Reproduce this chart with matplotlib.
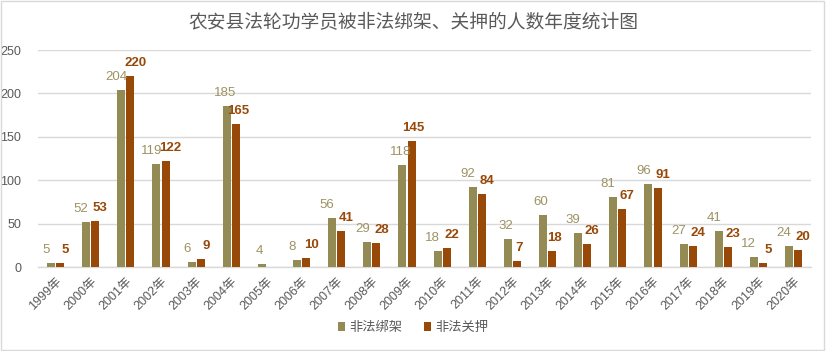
import matplotlib
matplotlib.use("Agg")
import matplotlib.pyplot as plt
import numpy as np
from matplotlib.patches import Rectangle

plt.rcParams['font.family'] = ['Liberation Sans', 'Noto Sans CJK SC', 'DejaVu Sans']

years = ['1999年', '2000年', '2001年', '2002年', '2003年', '2004年', '2005年', '2006年',
         '2007年', '2008年', '2009年', '2010年', '2011年', '2012年', '2013年', '2014年',
         '2015年', '2016年', '2017年', '2018年', '2019年', '2020年']
kidnapped = [5, 52, 204, 119, 6, 185, 4, 8, 56, 29, 118, 18, 92, 32, 60, 39, 81, 96, 27, 41, 12, 24]
detained = [5, 53, 220, 122, 9, 165, None, 10, 41, 28, 145, 22, 84, 7, 18, 26, 67, 91, 24, 23, 5, 20]
series_names = ['非法绑架', '非法关押']
title = '农安县法轮功学员被非法绑架、关押的人数年度统计图'

c1 = '#948A54'
c2 = '#984807'
lab1 = '#9E9262'
grid_c = '#D9D9D9'
txt_c = '#595959'

fig = plt.figure(figsize=(8.26, 3.51), dpi=100)
ax = fig.add_axes([0.046, 0.2393, 0.936, 0.6182])

x = np.arange(len(years))
w = 0.23
gap = 0.03
k_vals = np.array(kidnapped, dtype=float)
d_vals = np.array([np.nan if v is None else v for v in detained], dtype=float)
b1 = ax.bar(x - w / 2 - gap / 2, k_vals, w, color=c1, label=series_names[0], zorder=3)
b2 = ax.bar(x + w / 2 + gap / 2, np.nan_to_num(d_vals), w, color=c2, label=series_names[1], zorder=3)

for xi, v, dv in zip(x, k_vals, d_vals):
    close = (not np.isnan(dv)) and abs(dv - v) < 20
    dx = -5 if close else -2
    ax.annotate(f'{int(v)}', (xi - w / 2 - gap / 2, v), xytext=(dx, 13), textcoords='offset pixels',
                ha='center', va='center', fontsize=9.5, color=lab1)
for xi, v, kv in zip(x, d_vals, k_vals):
    if np.isnan(v):
        continue
    close = abs(kv - v) < 20
    dx = 5 if close else 2
    ax.annotate(f'{int(v)}', (xi + w / 2 + gap / 2, v), xytext=(dx, 13), textcoords='offset pixels',
                ha='center', va='center', fontsize=9.5, color=c2, fontweight='bold')

ax.set_xlim(-0.5, len(years) - 0.5)
ax.set_ylim(0, 250)
ax.set_yticks([0, 50, 100, 150, 200, 250])
ax.yaxis.grid(True, color=grid_c, linewidth=1, zorder=0)
ax.set_axisbelow(True)
for s in ['top', 'right', 'left']:
    ax.spines[s].set_visible(False)
ax.spines['bottom'].set_color(grid_c)
ax.spines['bottom'].set_linewidth(1)
ax.tick_params(axis='y', length=0, pad=12, labelsize=9, labelcolor=txt_c)
ax.tick_params(axis='x', length=0, pad=6, labelsize=9, labelcolor=txt_c)
ax.set_xticks(x)
ax.set_xticklabels(years, rotation=45, ha='right', rotation_mode='anchor')
for lbl in ax.get_xticklabels():
    lbl.set_x(lbl.get_position()[0])

fig.suptitle(title, y=0.965, fontsize=13.5, color=txt_c, family=['Noto Sans CJK SC', 'DejaVu Sans'])

leg = fig.legend(handles=[b1, b2], labels=series_names, loc='center', bbox_to_anchor=(0.5, 0.065),
                 ncol=2, frameon=False, fontsize=9.5, handlelength=0.6, handleheight=0.6,
                 handletextpad=0.3, columnspacing=1.6, labelcolor=txt_c)

fig.patches.append(Rectangle((0.001, 0.002), 0.997, 0.995, transform=fig.transFigure,
                             fill=False, edgecolor=grid_c, linewidth=1))

fig.savefig('out.png', dpi=100)
